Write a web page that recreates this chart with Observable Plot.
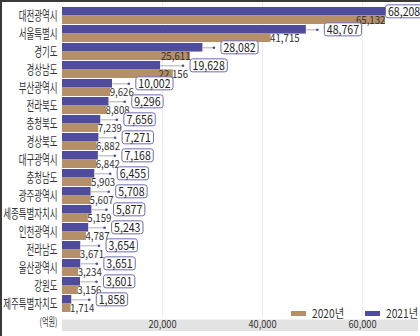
<!DOCTYPE html>
<html><head><meta charset="utf-8">
<script src="https://cdn.jsdelivr.net/npm/d3@7"></script>
<script src="https://cdn.jsdelivr.net/npm/@observablehq/plot@0.6"></script>
<style>
body{margin:0;background:#fff;}
#wrap{position:relative;width:420px;height:336px;overflow:hidden;background:#fff;font-family:"Noto Sans CJK KR",sans-serif;color:#333;}
#chart{position:absolute;left:0;top:0;}
#frame{position:absolute;left:0;top:0;width:420px;height:336px;border-top:2px solid #3a3a3a;border-left:2px solid #3a3a3a;box-sizing:border-box;pointer-events:none;}
.lg{position:absolute;height:14px;line-height:14px;font-size:12px;white-space:nowrap;}
.sw{position:absolute;width:15px;height:5px;}
.lt{position:absolute;transform:scaleX(0.85);transform-origin:left center;}
</style></head><body>
<div id="wrap"><div id="chart"></div><div id="legend"></div><div id="frame"></div></div>
<script>
const regions = ["대전광역시","서울특별시","경기도","경상남도","부산광역시","전라북도","충청북도","경상북도","대구광역시","충청남도","광주광역시","세종특별자치시","인천광역시","전라남도","울산광역시","강원도","제주특별자치도"];
const values2021 = [68208,48767,28082,19628,10002,9296,7656,7271,7168,6455,5708,5877,5243,3654,3651,3601,1858];
const values2020 = [65132,41715,25611,22156,9626,8808,7239,6882,6842,5903,5607,5159,4787,3671,3234,3156,1714];
const xTicks = [20000,40000,60000];
const seriesNames = ["2020년","2021년"];
const unitLabel = "(억원)";

const BLUE = "#4f4c9e", BROWN = "#b48f68";
const fmt = d3.format(",");
const rows = regions.map((r,i)=>({region:r, v2021:values2021[i], v2020:values2020[i]}));

const W = 420, H = 336, ML = 62, MR = 35, MT = 2, MB = 20;
const xMax = 64600; // the reference truncates the longest bars at this length
const upp = xMax / (W - ML - MR); // data units per pixel
const half = 8.45;
const NUMS = 0.88, KRS = 0.65;

// label placement (avoid collisions like the reference does)
const ctx = document.createElement("canvas").getContext("2d");
const tw = (str, size, s) => { ctx.font = `${size}px "Noto Sans CJK KR"`; return ctx.measureText(str).width * s; };
const px = v => ML + Math.min(Math.max(v, 0), xMax) / upp;
const toData = p => (p - ML) * upp;
for (let i = rows.length - 1; i >= 0; i--) {
  const d = rows[i];
  const w20 = tw(fmt(d.v2020), 11, NUMS);
  d.wBox = tw(fmt(d.v2021), 12, NUMS) + 5;
  let a = "start";
  if (d.v2020 >= xMax) a = "end";
  else if (px(d.v2020) - px(d.v2021) > 10) a = "middle";
  else if (i < rows.length - 1) {
    const nb = rows[i + 1].boxPx, s = px(d.v2020) - 1;
    if (s + w20 > nb + 6 && s < nb + rows[i + 1].wBox) a = "end";
  }
  d.anchor20 = a;
  const end20 = a === "start" ? px(d.v2020) - 1 + w20 : a === "middle" ? px(d.v2020) + w20 / 2 : px(d.v2020);
  d.boxPx = Math.max(px(d.v2021) + 18, end20 + 2);
  d.x21 = toData(d.boxPx);
  d.xDot = toData(d.boxPx - 7);
}
const label20 = anchor => Plot.text(rows.filter(d => d.anchor20 === anchor), {
  x: "v2020", y: "region", text: d => fmt(d.v2020), textAnchor: anchor,
  dx: anchor === "start" ? -1 : 0, dy: 4, fontSize: 11, fill: "#333"
});

const chart = Plot.plot({
  width: W, height: H,
  marginLeft: ML, marginRight: MR, marginTop: MT, marginBottom: MB,
  style: {fontFamily: '"Noto Sans CJK KR", sans-serif', fontSize: "11px", color: "#333", background: "transparent"},
  x: {domain: [0, xMax], clamp: true, ticks: xTicks, tickFormat: d => fmt(d), tickSize: 0, tickPadding: 4, label: null},
  y: {domain: regions, padding: 0.08, tickSize: 0, tickPadding: 5, label: null},
  marks: [
    Plot.ruleX(xTicks, {stroke: "#ececec"}),
    Plot.barX(rows, {y: "region", x: "v2021", fill: BLUE, insetBottom: half}),
    Plot.barX(rows, {y: "region", x: "v2020", fill: BROWN, insetTop: half}),
    Plot.link(rows, {x1: "v2021", x2: "xDot", y1: "region", y2: "region", dy: -4.2, stroke: "#9a9a9a", strokeWidth: 0.8}),
    Plot.dot(rows, {x: "xDot", y: "region", dy: -4.2, r: 1.3, fill: BLUE, stroke: null}),
    label20("start"), label20("middle"), label20("end"),
    Plot.text(rows, {x: "x21", y: "region", text: d => fmt(d.v2021), textAnchor: "start", dx: 2.5, dy: -4, fontSize: 12, fill: "#222"}),
    Plot.text([unitLabel], {frameAnchor: "bottom-left", dx: -5, dy: 9, textAnchor: "end", fontSize: 11, fill: "#333"})
  ]
});
document.getElementById("chart").appendChild(chart);
const svg = chart.tagName.toLowerCase() === "svg" ? chart : chart.querySelector("svg");
const NS = "http://www.w3.org/2000/svg";

// axis band
const band = document.createElementNS(NS, "rect");
band.setAttribute("x", ML); band.setAttribute("y", H - MB + 3.5);
band.setAttribute("width", W - ML - 2); band.setAttribute("height", 11.5);
band.setAttribute("fill", "#e3e3e3");
svg.insertBefore(band, svg.firstChild.nextSibling);

// font sizes of axes
svg.querySelectorAll('[aria-label^="y-axis"] text').forEach(t => { t.setAttribute("font-size", "13px"); t.setAttribute("fill", "#333"); });
svg.querySelectorAll('[aria-label^="x-axis"] text').forEach(t => { t.setAttribute("font-size", "10.5px"); t.setAttribute("fill", "#333"); });

// condensed look: texts are positioned by translate(), so scaling keeps the anchor
svg.querySelectorAll("text").forEach(t => {
  const s = /[가-힣]/.test(t.textContent) ? KRS : NUMS;
  const tr = t.getAttribute("transform") || "";
  t.setAttribute("transform", (tr + ` scale(${s},1)`).trim());
});

// rounded boxes around 2021 labels
const first21 = fmt(values2021[0]);
const g21 = Array.from(svg.querySelectorAll("g")).find(g => {
  const ts = g.querySelectorAll(":scope > text");
  return ts.length === rows.length && ts[0].textContent === first21;
});
if (g21) {
  const sb = svg.getBoundingClientRect();
  const boxes = document.createElementNS(NS, "g");
  g21.querySelectorAll("text").forEach(t => {
    const b = t.getBoundingClientRect();
    const cy = (b.top + b.bottom) / 2 - sb.top + 0.8;
    const r = document.createElementNS(NS, "rect");
    r.setAttribute("x", b.left - sb.left - 2.5);
    r.setAttribute("y", cy - 6.5);
    r.setAttribute("width", b.width + 5);
    r.setAttribute("height", 13);
    r.setAttribute("rx", 2.5);
    r.setAttribute("fill", "#fff");
    r.setAttribute("stroke", "#6f6cb0");
    r.setAttribute("stroke-width", 1);
    boxes.appendChild(r);
  });
  g21.parentNode.insertBefore(boxes, g21);
}

// legend
const lg = document.getElementById("legend");
const colorsBy = {"2020년": BROWN, "2021년": BLUE};
const legendX = [291, 365];
seriesNames.forEach((n, i) => {
  const sw = document.createElement("div");
  sw.className = "sw"; sw.style.left = legendX[i] + "px"; sw.style.top = "311px"; sw.style.background = colorsBy[n];
  const tx = document.createElement("div");
  tx.className = "lg lt"; tx.style.left = (legendX[i] + 21) + "px"; tx.style.top = "306px"; tx.textContent = n;
  lg.appendChild(sw); lg.appendChild(tx);
});
</script>
</body></html>
